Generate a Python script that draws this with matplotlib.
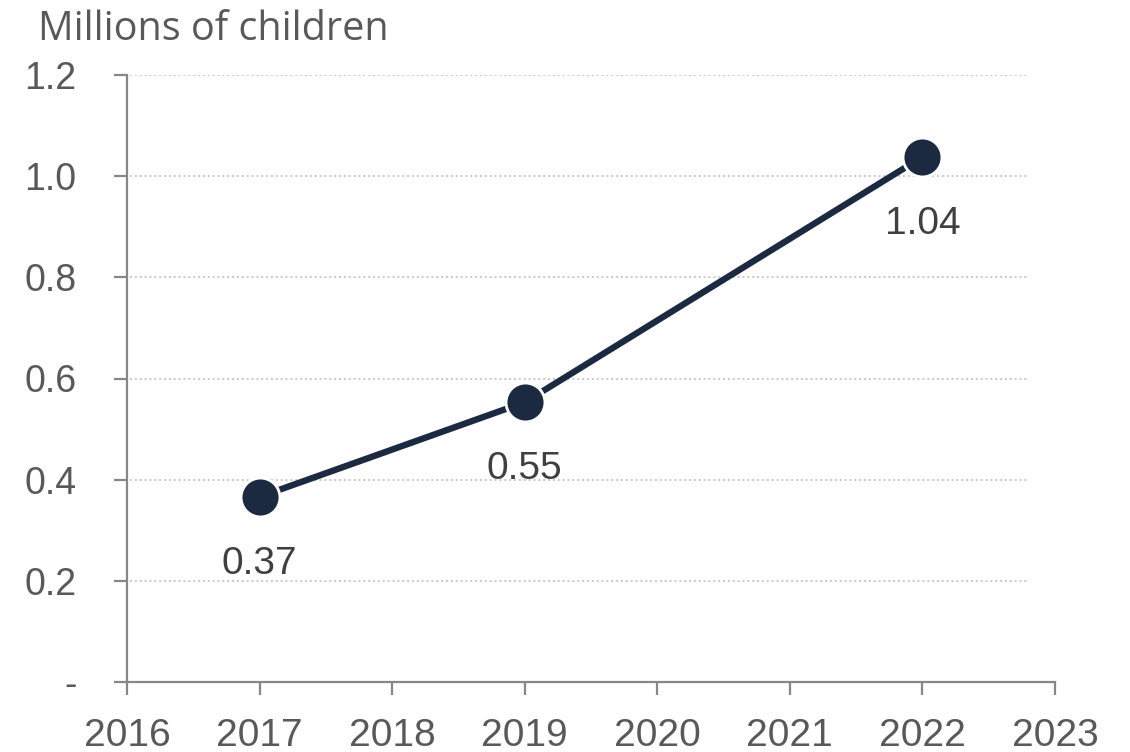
import matplotlib
matplotlib.use('Agg')
import matplotlib.pyplot as plt
import numpy as np

years = [2017, 2019, 2022]
children = [0.366, 0.553, 1.038]
labels = ['0.37', '0.55', '1.04']
xticks = [2016, 2017, 2018, 2019, 2020, 2021, 2022, 2023]
yticks = [0, 0.2, 0.4, 0.6, 0.8, 1.0, 1.2]
ytick_labels = ['-', '0.2', '0.4', '0.6', '0.8', '1.0', '1.2']

plt.rcParams['font.family'] = ['Liberation Sans', 'DejaVu Sans']

fig = plt.figure(figsize=(11.3, 7.52), dpi=100)
ax = fig.add_axes([127 / 1130, 70 / 752, 928 / 1130, 607 / 752])

navy = '#1b2a41'
grey = '#878787'
txt = '#595959'

ax.plot(years, children, color=navy, lw=4.6, marker='o', ms=28,
        mfc=navy, mec='white', mew=2, zorder=3)

for x, y, lab in zip(years, children, labels):
    ax.annotate(lab, (x, y), xytext=(0, -48), textcoords='offset points',
                ha='center', va='center', fontsize=28, color='#404040')

ax.set_xlim(2016, 2023)
ax.set_ylim(0, 1.2)
ax.set_xticks(xticks)
ax.set_yticks(yticks)
ax.set_yticklabels(ytick_labels)

# gridlines stop a little short of the last x tick
for yv in yticks[1:]:
    ax.axhline(yv, xmin=0.003, xmax=0.971, color='#c8c8c8', lw=1.4,
               ls=(0, (1, 1.5)), zorder=1)

for s in ['top', 'right']:
    ax.spines[s].set_visible(False)
for s in ['left', 'bottom']:
    ax.spines[s].set_color(grey)
    ax.spines[s].set_linewidth(1.6)

ax.tick_params(axis='y', length=9.5, width=1.6, color=grey, labelsize=27,
               labelcolor=txt, pad=27)
ax.tick_params(axis='x', length=9, width=1.6, color=grey, labelsize=28,
               labelcolor=txt, pad=17)

fig.text(38 / 1130, 1 - 40 / 752, 'Millions of children', fontsize=28.5,
         color=txt, ha='left', va='baseline', family=['Open Sans', 'DejaVu Sans'])

fig.savefig('out.png', dpi=100)
